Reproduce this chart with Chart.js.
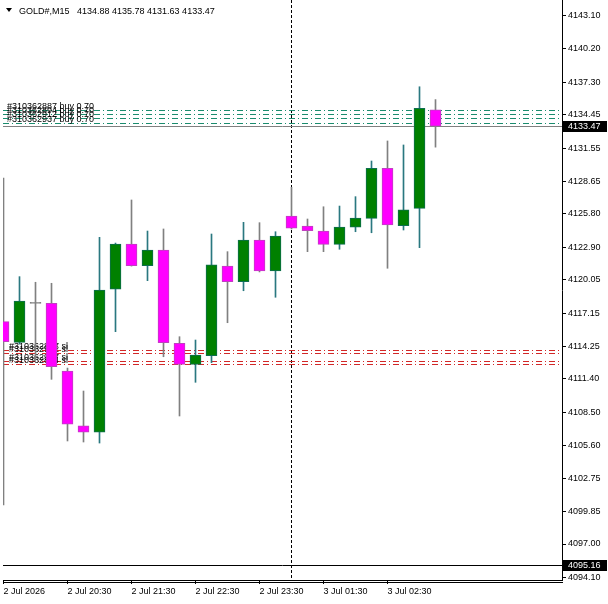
<!DOCTYPE html>
<html>
<head>
<meta charset="utf-8">
<script src="https://cdn.jsdelivr.net/npm/chart.js@4.4.1/dist/chart.umd.min.js"></script>
<style>
html,body{margin:0;padding:0;background:#fff;overflow:hidden}
canvas{display:block}
</style>
</head>
<body>
<canvas id="c" width="608" height="604"></canvas>
<script>
// ---------- data ----------
const symbol = "GOLD#,M15";
const candleTimes = [
  "2 Jul 19:30","2 Jul 19:45","2 Jul 20:00","2 Jul 20:15","2 Jul 20:30","2 Jul 20:45",
  "2 Jul 21:00","2 Jul 21:15","2 Jul 21:30","2 Jul 21:45","2 Jul 22:00","2 Jul 22:15",
  "2 Jul 22:30","2 Jul 22:45","2 Jul 23:00","2 Jul 23:15","2 Jul 23:30","2 Jul 23:45",
  "3 Jul 01:00","3 Jul 01:15","3 Jul 01:30","3 Jul 01:45","3 Jul 02:00","3 Jul 02:15",
  "3 Jul 02:30","3 Jul 02:45","3 Jul 03:00","3 Jul 03:15"
];
const opens  = [4116.40,4114.60,4118.00,4118.00,4112.10,4107.32,4106.75,4119.23,4123.18,4121.28,4122.65,4114.51,4112.68,4113.43,4121.26,4119.89,4123.53,4120.82,4125.62,4124.75,4124.31,4123.15,4124.64,4125.42,4129.78,4124.78,4126.29,4134.88];
const highs  = [4128.94,4120.33,4119.84,4119.75,4112.35,4110.35,4123.76,4123.26,4127.02,4124.31,4124.49,4115.09,4114.80,4124.05,4122.51,4125.07,4125.04,4124.25,4128.13,4125.36,4126.43,4126.49,4127.31,4130.42,4132.17,4131.82,4136.90,4135.78];
const lows   = [4100.40,4114.45,4113.06,4111.37,4105.99,4105.90,4105.81,4115.53,4121.25,4119.98,4113.34,4108.17,4111.11,4112.82,4116.31,4119.10,4120.74,4118.53,4124.49,4122.51,4122.51,4122.72,4124.25,4124.16,4121.06,4124.40,4122.86,4131.63];
const closes = [4114.65,4118.20,4118.00,4112.47,4107.45,4106.75,4119.16,4123.18,4121.28,4122.65,4114.57,4112.68,4113.49,4121.35,4119.89,4123.53,4120.82,4123.88,4124.55,4124.34,4123.15,4124.66,4125.45,4129.78,4124.84,4126.15,4135.02,4133.47];

const xTickIndex  = [0,4,8,12,16,20,24];
const xTickLabels = ["2 Jul 2026","2 Jul 20:30","2 Jul 21:30","2 Jul 22:30","2 Jul 23:30","3 Jul 01:30","3 Jul 02:30"];
const yTicks = [4143.10,4140.20,4137.30,4134.45,4131.55,4128.65,4125.80,4122.90,4120.05,4117.15,4114.25,4111.40,4108.50,4105.60,4102.75,4099.85,4097.00,4094.10];

const buyTickets = ["310362887","310362894","310362912","310362937"];
const buyPrices  = [4134.87,4134.48,4134.13,4133.78];
const buyLots    = ["0.70","0.70","0.70","0.70"];
const slTickets  = ["310362887","310362912","310362937","310362894"];
const slPrices   = [4113.93,4113.69,4112.97,4112.73];
const bidPrice   = 4133.47;
const levelPrice = 4095.16;

// ---------- styles ----------
const FONT = '"Liberation Sans", Arial, sans-serif';
const BULL = '#008000', BULL_EDGE = '#0d6e50', BULL_WICK = '#2a7880';
const BEAR = '#ff00ff', BEAR_EDGE = '#c040c0', BEAR_WICK = '#808080';
const DOJI = '#808080';

const idx = opens.map((_, i) => i);
const bodyData = idx.map(i => ({x: i, y: [opens[i], closes[i]]}));
const wickData = idx.map(i => ({x: i, y: [lows[i], highs[i]]}));
const dayOf = t => t.split(' ').slice(0, 2).join(' ');
const separatorIndex = candleTimes.findIndex((t, i) => i > 0 && dayOf(t) !== dayOf(candleTimes[i - 1]));

const kind = i => closes[i] > opens[i] ? 1 : (closes[i] < opens[i] ? -1 : 0);

const overlay = {
  id: 'mtOverlay',
  beforeDatasetsDraw(chart) {
    const {ctx, chartArea: a, scales: {x, y}} = chart;
    const hy = p => Math.round(y.getPixelForValue(p)) + 0.5;
    ctx.save();
    ctx.beginPath();
    ctx.rect(a.left, a.top, a.right - a.left, a.bottom - a.top);
    ctx.clip();
    ctx.lineWidth = 1;
    const hline = (p, color, dash) => {
      ctx.beginPath();
      ctx.setLineDash(dash);
      ctx.strokeStyle = color;
      const yy = hy(p);
      ctx.moveTo(a.left, yy);
      ctx.lineTo(a.right, yy);
      ctx.stroke();
    };
    // day separator
    if (separatorIndex > 0) {
      const sx = Math.floor(x.getPixelForValue(separatorIndex)) + 0.5;
      ctx.beginPath();
      ctx.setLineDash([3, 2]);
      ctx.strokeStyle = '#000';
      ctx.moveTo(sx, a.top);
      ctx.lineTo(sx, a.bottom);
      ctx.stroke();
    }
    hline(bidPrice, '#808080', []);
    hline(levelPrice, '#000000', []);
    buyPrices.forEach(p => hline(p, '#1a8c6e', [6, 3, 1, 3]));
    slPrices.forEach(p => hline(p, '#d22828', [6, 3, 1, 3]));
    ctx.setLineDash([]);
    // order labels
    ctx.font = '9px ' + FONT;
    ctx.fillStyle = '#000';
    ctx.textAlign = 'left';
    ctx.textBaseline = 'alphabetic';
    buyPrices.forEach((p, i) => ctx.fillText('#' + buyTickets[i] + ' buy ' + buyLots[i], a.left + 4, hy(p) - 2));
    slPrices.forEach((p, i) => ctx.fillText('#' + slTickets[i] + ' sl', a.left + 6, hy(p) - 2));
    // header
    ctx.beginPath();
    ctx.moveTo(6, 8); ctx.lineTo(12, 8); ctx.lineTo(9, 12); ctx.closePath();
    ctx.fill();
    const n = opens.length - 1;
    ctx.fillText(symbol + '   ' + opens[n].toFixed(2) + ' ' + highs[n].toFixed(2) + ' ' +
                 lows[n].toFixed(2) + ' ' + closes[n].toFixed(2), 19, 14);
    ctx.restore();
  },
  afterDraw(chart) {
    const {ctx, chartArea: a, scales: {y}} = chart;
    ctx.save();
    // second bottom frame line
    ctx.strokeStyle = '#000';
    ctx.lineWidth = 1;
    ctx.beginPath();
    ctx.moveTo(a.left, a.bottom + 2.5);
    ctx.lineTo(a.right + 1, a.bottom + 2.5);
    ctx.stroke();
    // price boxes
    ctx.font = '9px ' + FONT;
    ctx.textAlign = 'left';
    ctx.textBaseline = 'middle';
    [bidPrice, levelPrice].forEach(p => {
      const yy = Math.round(y.getPixelForValue(p));
      ctx.fillStyle = '#000';
      ctx.fillRect(a.right + 1, yy - 5, chart.width - a.right - 2, 11);
      ctx.fillStyle = '#fff';
      ctx.fillText(p.toFixed(2), a.right + 6, yy + 0.5);
    });
    ctx.restore();
  }
};

const colorBy = (bull, bear, doji) => ctx => {
  const k = kind(ctx.dataIndex);
  return k > 0 ? bull : (k < 0 ? bear : doji);
};

new Chart(document.getElementById('c'), {
  type: 'bar',
  data: {
    datasets: [
      {
        label: 'body',
        data: bodyData,
        grouped: false,
        barThickness: 11,
        minBarLength: 1,
        borderWidth: 1,
        borderSkipped: false,
        backgroundColor: colorBy(BULL, BEAR, DOJI),
        borderColor: colorBy(BULL_EDGE, BEAR_EDGE, DOJI),
        clip: 0,
        order: 0
      },
      {
        label: 'wick',
        data: wickData,
        grouped: false,
        barThickness: 1,
        borderWidth: 0,
        backgroundColor: colorBy(BULL_WICK, BEAR_WICK, DOJI),
        clip: 0,
        order: 1
      }
    ]
  },
  options: {
    responsive: false,
    animation: false,
    devicePixelRatio: 1,
    events: [],
    layout: {padding: {left: 3, top: 0, right: 0, bottom: 0}},
    plugins: {legend: {display: false}, tooltip: {enabled: false}, title: {display: false}},
    scales: {
      x: {
        type: 'linear',
        min: -0.03125,
        max: 34.90625,
        offset: false,
        grid: {drawOnChartArea: false, drawTicks: true, tickLength: 4, color: '#000', offset: false},
        border: {display: true, color: '#000', width: 1},
        ticks: {
          autoSkip: false, maxRotation: 0, minRotation: 0, align: 'start', padding: 2,
          color: '#000', font: {family: FONT, size: 9},
          callback: (v, i) => xTickLabels[i]
        },
        afterBuildTicks: s => { s.ticks = xTickIndex.map(v => ({value: v})); },
        afterFit: s => { s.height = 24; s.paddingLeft = 0; s.paddingRight = 0; }
      },
      y: {
        type: 'linear',
        position: 'right',
        min: 4093.859,
        max: 4144.470,
        beginAtZero: false,
        grid: {drawOnChartArea: false, drawTicks: true, tickLength: 4, color: '#000'},
        border: {display: true, color: '#000', width: 1},
        ticks: {
          autoSkip: false, padding: 2, color: '#000', font: {family: FONT, size: 9},
          callback: v => Number(v).toFixed(2)
        },
        afterBuildTicks: s => { s.ticks = yTicks.map(v => ({value: v})); },
        afterFit: s => { s.width = 46; s.paddingTop = 0; s.paddingBottom = 0; }
      }
    }
  },
  plugins: [overlay]
});
</script>
</body>
</html>
